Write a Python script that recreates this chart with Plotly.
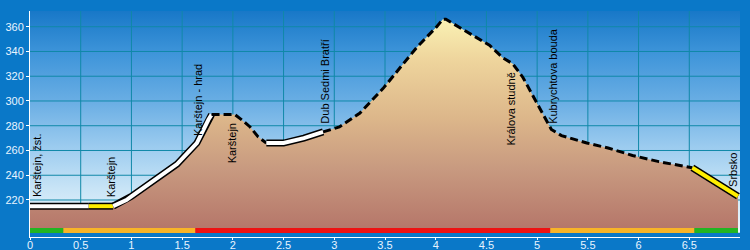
import plotly.graph_objects as go

# ---- data ----
dist_km = [0.00, 0.58, 0.82, 0.95, 1.00, 1.38, 1.45, 1.645, 1.70, 1.76, 1.79,
           2.02, 2.10, 2.17, 2.25, 2.33, 2.50, 2.70, 2.89, 3.05, 3.25, 3.48,
           3.65, 3.81, 4.01, 4.07, 4.10, 4.16, 4.35, 4.53, 4.66, 4.76, 4.86,
           5.00, 5.14, 5.24, 5.49, 5.70, 5.94, 6.20, 6.53, 6.77, 6.98]
elev_m = [215, 215, 215, 220, 223, 245, 249, 266, 276, 285, 289,
          289, 284, 279, 271, 266, 266, 270, 275, 279, 290, 310,
          327, 343, 360, 366, 366, 363, 354, 345, 335, 330, 319,
          298, 277, 272, 266, 262, 256, 251, 246, 234, 223]

# path segments: (start km, end km, style)
seg_start = [0.00, 0.58, 0.82, 1.79, 2.33, 2.89, 6.53]
seg_end = [0.58, 0.82, 1.79, 2.33, 2.89, 6.53, 6.98]
seg_style = ["white", "yellow", "white", "dash", "white", "dash", "yellow"]

# difficulty bar
bar_start = [0.00, 0.33, 1.63, 5.13, 6.55]
bar_end = [0.33, 1.63, 5.13, 6.55, 6.98]
bar_color = ["#22b422", "#f8b428", "#ee1111", "#f8b428", "#22b422"]

# place labels
lab_text = ["Karštejn, žst.", "Karštejn", "Karštejn - hrad", "Karštejn",
            "Dub Sedmi Bratří", "Králova studně", "Kubrychtova bouda", "Srbsko"]
lab_x = [0.07, 0.80, 1.655, 1.995, 2.90, 4.74, 5.15, 6.93]
lab_y = [221.6, 221.6, 270.8, 283.0, 281.0, 324.0, 281.0, 229.7]
lab_anchor = ["bottom", "bottom", "bottom", "top", "bottom", "top", "bottom", "bottom"]

x_ticks = [0, 0.5, 1, 1.5, 2, 2.5, 3, 3.5, 4, 4.5, 5, 5.5, 6, 6.5]
y_ticks = [220, 240, 260, 280, 300, 320, 340, 360]

X_MIN, X_MAX = 0.0, 7.0
Y_MIN, Y_MAX = 190.1, 372.7
BASE = 193.5
BAR_Y = 195.3

fig = go.Figure()

# sky gradient
fig.add_trace(go.Scatter(
    x=[X_MIN, X_MAX, X_MAX, X_MIN, X_MIN], y=[BASE, BASE, Y_MAX, Y_MAX, BASE],
    mode="lines", line=dict(width=0), fill="toself",
    fillgradient=dict(type="vertical", start=BASE, stop=Y_MAX,
                      colorscale=[[0, "#eef8fe"], [0.2, "#c8e4f6"], [0.37, "#a0cef0"],
                                  [0.59, "#6aaee4"], [0.8, "#4096da"], [1, "#1878c8"]]),
    hoverinfo="skip", showlegend=False))

# grid lines (above sky, below terrain)
gx, gy = [], []
for t in x_ticks[1:]:
    gx += [t, t, None]
    gy += [BASE, Y_MAX, None]
for t in y_ticks:
    gx += [X_MIN, X_MAX, None]
    gy += [t, t, None]
fig.add_trace(go.Scatter(x=gx, y=gy, mode="lines", line=dict(color="#1088a8", width=1),
                         hoverinfo="skip", showlegend=False))

# baseline for terrain fill
fig.add_trace(go.Scatter(x=[dist_km[0], dist_km[-1]], y=[BASE, BASE], mode="lines",
                         line=dict(width=0), hoverinfo="skip", showlegend=False))
fig.add_trace(go.Scatter(
    x=dist_km, y=elev_m, mode="lines", line=dict(width=0), fill="tonexty",
    fillgradient=dict(type="vertical", start=BASE, stop=367,
                      colorscale=[[0, "#b47468"], [0.3, "#c89a80"], [0.53, "#dcb68a"],
                                  [0.8, "#eed49c"], [1, "#faf2b4"]]),
    hoverinfo="skip", showlegend=False))

# path segments
for s, e, st in zip(seg_start, seg_end, seg_style):
    xs = [x for x in dist_km if s <= x <= e]
    ys = [y for x, y in zip(dist_km, elev_m) if s <= x <= e]
    if st == "dash":
        fig.add_trace(go.Scatter(x=xs, y=ys, mode="lines",
                                 line=dict(color="black", width=3, dash="8px,4px"),
                                 hoverinfo="skip", showlegend=False))
    else:
        col = "white" if st == "white" else "#ffee00"
        fig.add_trace(go.Scatter(x=xs, y=ys, mode="lines",
                                 line=dict(color="black", width=7),
                                 hoverinfo="skip", showlegend=False))
        fig.add_trace(go.Scatter(x=xs, y=ys, mode="lines",
                                 line=dict(color=col, width=4),
                                 hoverinfo="skip", showlegend=False))

# difficulty bar
for s, e, c in zip(bar_start, bar_end, bar_color):
    fig.add_trace(go.Scatter(x=[s, e], y=[BAR_Y, BAR_Y], mode="lines",
                             line=dict(color=c, width=5),
                             hoverinfo="skip", showlegend=False))

for t, x, y, a in zip(lab_text, lab_x, lab_y, lab_anchor):
    fig.add_annotation(x=x, y=y, text=t, textangle=-90, showarrow=False,
                       xanchor="center", yanchor=a,
                       font=dict(family="Liberation Sans, Arial", size=11, color="black"),
                       borderpad=0)

axis_font = dict(family="Liberation Sans, Arial", size=11, color="#e8f4ff")
fig.update_layout(
    width=750, height=250,
    margin=dict(l=30, r=10, t=11, b=13, autoexpand=False),
    paper_bgcolor="#0a78c8", plot_bgcolor="#0a78c8",
    showlegend=False,
    xaxis=dict(range=[X_MIN, X_MAX], tickvals=x_ticks, showgrid=False,
               zeroline=False, automargin=False,
               showline=True, linecolor="white", linewidth=1,
               ticks="outside", ticklen=2, tickcolor="white",
               ticklabelstandoff=-4, tickfont=axis_font),
    yaxis=dict(range=[Y_MIN, Y_MAX], tickvals=y_ticks, showgrid=False,
               zeroline=False, automargin=False,
               showline=True, linecolor="white", linewidth=1,
               ticks="outside", ticklen=3, tickcolor="white",
               tickfont=axis_font),
)

fig.write_html("out.html")
